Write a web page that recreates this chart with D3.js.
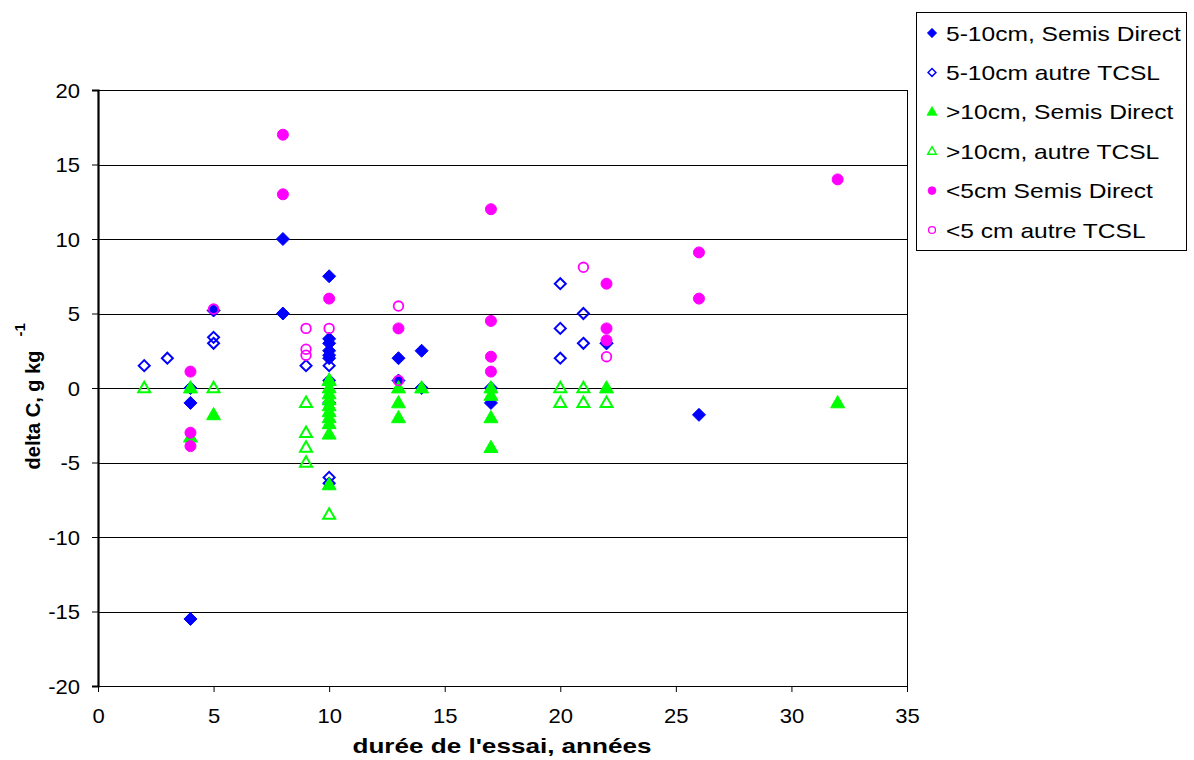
<!DOCTYPE html>
<html>
<head>
<meta charset="utf-8">
<script src="https://cdn.jsdelivr.net/npm/d3@7"></script>
<style>
  html, body { margin: 0; padding: 0; background: #fff; }
  svg { display: block; font-family: "Liberation Sans", Arial, sans-serif; }
</style>
</head>
<body>
<svg id="chart" width="1194" height="760"></svg>
<script>
// Series: [durée (années), delta C (g/kg)]
const sd510 = [[4,0],[4,-1],[4,-15.5],[5,5.2],[8,10],[8,5],[10,7.5],[10,3.3],[10,3],[10,2.5],[10,2.2],[10,2],[10,-1],[13,2],[13,0.5],[14,2.5],[14,0],[17,0],[17,-1],[22,3],[26,-1.8]];
const autre510 = [[2,1.5],[3,2],[5,3.4],[5,3],[9,1.5],[10,1.5],[10,0.5],[10,-6],[10,-6.4],[20,7],[20,4],[20,2],[21,5],[21,3],[22,3]];
const sd10 = [[4,0],[4,-3.3],[5,-1.8],[10,0.5],[10,0],[10,-0.4],[10,-0.8],[10,-1.2],[10,-1.6],[10,-2],[10,-2.4],[10,-3.1],[10,-6.5],[13,0],[13,-1],[13,-2],[14,0],[17,0],[17,-0.5],[17,-2],[17,-4],[22,0],[32,-1]];
const autre10 = [[2,0],[5,0],[9,-1],[9,-3],[9,-4],[9,-5],[10,0.5],[10,-8.5],[20,0],[20,-1],[21,0],[21,-1],[22,-1]];
const sd5 = [[4,1.1],[4,-3],[4,-3.9],[8,17],[8,13],[10,6],[13,4],[17,12],[17,4.5],[17,2.1],[17,1.1],[22,7],[22,4],[22,3.2],[26,9.1],[26,6],[32,14]];
const autre5 = [[5,5.3],[9,4],[9,2.6],[9,2.2],[10,4],[13,5.5],[13,0.5],[21,8.1],[22,2.1]];

const xTicks = [0,5,10,15,20,25,30,35];
const yTicks = [-20,-15,-10,-5,0,5,10,15,20];

const seriesNames = ["5-10cm, Semis Direct","5-10cm autre TCSL",">10cm, Semis Direct",">10cm, autre TCSL","<5cm Semis Direct","<5 cm autre TCSL"];

const svg = d3.select("#chart");
const L = 98, R = 907, T = 90, B = 686;

const x = d3.scaleLinear().domain([0,35]).range([L,R]);
const y = d3.scaleLinear().domain([-20,20]).range([B,T]);

// widen text horizontally by factor k
function stretch(sel, k) {
  sel.each(function() {
    const w = this.getComputedTextLength();
    d3.select(this).attr("textLength", w * k).attr("lengthAdjust", "spacingAndGlyphs");
  });
}

// grid lines
svg.append("g").selectAll("line").data(yTicks).join("line")
  .attr("x1", L).attr("x2", R)
  .attr("y1", d => Math.round(y(d)) + 0.5).attr("y2", d => Math.round(y(d)) + 0.5)
  .attr("stroke", "#000").attr("stroke-width", 1);

// right border of plot
svg.append("line").attr("x1", R + 0.5).attr("x2", R + 0.5).attr("y1", T).attr("y2", B)
  .attr("stroke", "#000").attr("stroke-width", 1);

// axes
const fmt = d => String(d);
const yAxis = d3.axisLeft(y).tickValues(yTicks).tickFormat(fmt).tickSize(6).tickPadding(12);
const gy = svg.append("g").attr("transform", `translate(${L},0)`).call(yAxis);
const xAxis = d3.axisBottom(x).tickValues(xTicks).tickFormat(fmt).tickSize(6).tickPadding(12);
const gx = svg.append("g").attr("transform", `translate(0,${B})`).call(xAxis);
[gx, gy].forEach(g => {
  g.select(".domain").attr("stroke", "#000");
  g.selectAll(".tick line").attr("stroke", "#000");
  g.selectAll("text").attr("fill", "#000").style("font-size", "21px")
    .style("font-family", "'Liberation Sans', Arial, sans-serif");
});
gy.select(".domain").attr("stroke-width", 2.2);
gy.selectAll(".tick text").attr("dy", "0.35em");
gx.selectAll(".tick text").attr("dy", "0.9em");
stretch(gx.selectAll(".tick text"), 1.05);
stretch(gy.selectAll(".tick text"), 1.05);

// marker shapes
const diamond = s => `M0,${-s}L${s},0L0,${s}L${-s},0Z`;
const tri = (w, h) => `M0,${-h*0.6}L${w},${h*0.4}L${-w},${h*0.4}Z`;

const styles = [
  {data: sd510, kind: "diamond", fill: "#0000ff", stroke: "#0000ff", size: 6.5, sw: 1},
  {data: autre510, kind: "diamond", fill: "none", stroke: "#0000ff", size: 5.5, sw: 2},
  {data: sd10, kind: "tri", fill: "#00ff00", stroke: "#00ff00", size: 7, sw: 1},
  {data: autre10, kind: "tri", fill: "none", stroke: "#00ff00", size: 6, sw: 2},
  {data: sd5, kind: "circle", fill: "#ff00ff", stroke: "#ff00ff", size: 5.5, sw: 1},
  {data: autre5, kind: "circle", fill: "none", stroke: "#ff00ff", size: 4.8, sw: 1.8}
];

function drawMarker(g, st, scale) {
  const k = scale || 1;
  if (st.kind === "circle") {
    return g.append("circle").attr("r", st.size * k)
      .attr("fill", st.fill === "none" ? "#fff" : st.fill).attr("fill-opacity", st.fill === "none" ? 0 : 1)
      .attr("stroke", st.stroke).attr("stroke-width", st.sw * k);
  }
  const d = st.kind === "diamond" ? diamond(st.size * k) : tri(st.size * k, st.size * 1.75 * k);
  return g.append("path").attr("d", d)
    .attr("fill", st.fill).attr("stroke", st.stroke).attr("stroke-width", st.sw * k)
    .attr("stroke-linejoin", "miter");
}

const plot = svg.append("g");
styles.forEach(st => {
  st.data.forEach(p => {
    const g = plot.append("g").attr("transform", `translate(${x(p[0])},${y(p[1])})`);
    drawMarker(g, st);
  });
});

// axis titles
svg.append("text").attr("x", 502).attr("y", 753).attr("text-anchor", "middle")
  .style("font-size", "21px").style("font-weight", "bold")
  .attr("textLength", 299).attr("lengthAdjust", "spacingAndGlyphs")
  .text("durée de l'essai, années");

const yt = svg.append("text").attr("transform", "translate(40,410) rotate(-90)")
  .attr("text-anchor", "middle").style("font-size", "20px").style("font-weight", "bold")
  .text("delta C, g kg");
const ytLen = yt.node().getComputedTextLength();
svg.append("text").attr("transform", `translate(25,${410 - ytLen / 2 - 14}) rotate(-90)`)
  .attr("text-anchor", "start").style("font-size", "15px").style("font-weight", "bold")
  .text("-1");

// legend
const leg = svg.append("g");
leg.append("rect").attr("x", 916.5).attr("y", 12.5).attr("width", 270).attr("height", 238)
  .attr("fill", "#fff").attr("stroke", "#000").attr("stroke-width", 1);
const legY = d3.scaleLinear().domain([0,5]).range([33,230]);
styles.forEach((st, i) => {
  const g = leg.append("g").attr("transform", `translate(932,${legY(i)})`);
  drawMarker(g, st, 0.72);
  const t = leg.append("text").attr("x", 946).attr("y", legY(i)).attr("dy", "0.36em")
    .style("font-size", "21px").attr("fill", "#000").text(seriesNames[i]);
  stretch(t, 1.17);
});
</script>
</body>
</html>
